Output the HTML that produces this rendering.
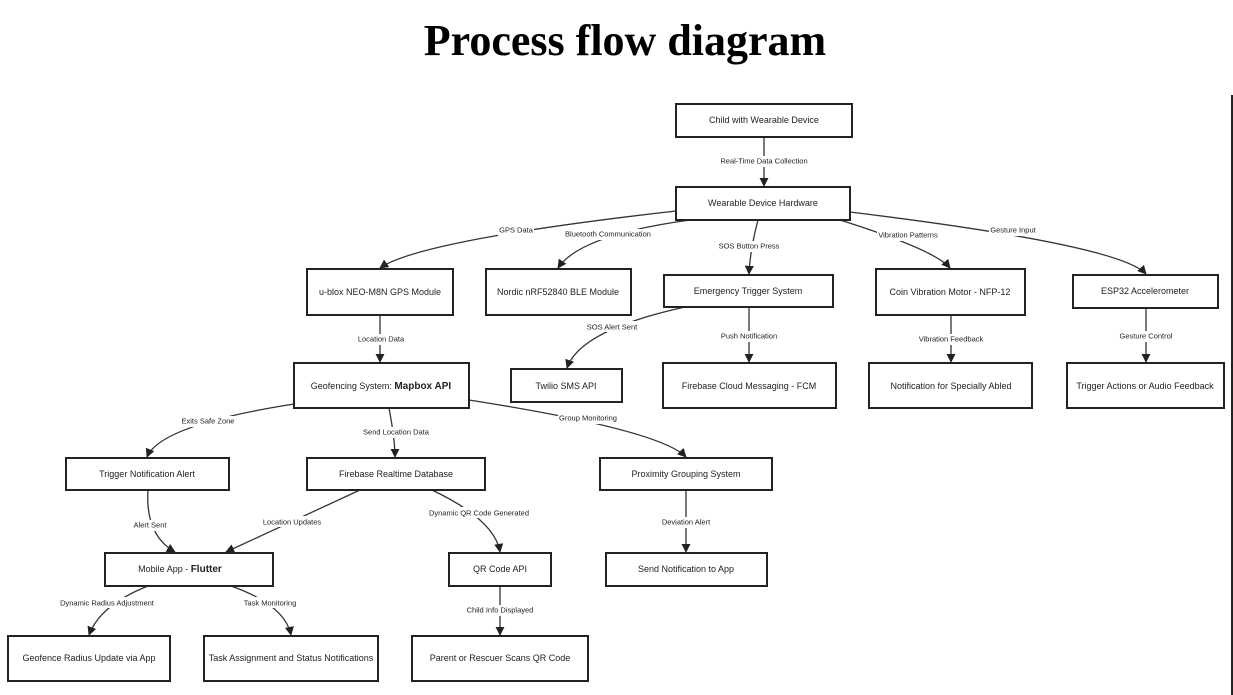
<!DOCTYPE html>
<html><head><meta charset="utf-8"><style>
html,body{margin:0;padding:0;background:#fff;}
svg{display:block;}
text{font-family:"Liberation Sans",sans-serif;fill:#222;}
.b{fill:#fff;stroke:#222;stroke-width:2;}
.e{fill:none;stroke:#333;stroke-width:1.3;marker-end:url(#a);}
.n{font-size:9px;text-anchor:middle;dominant-baseline:central;}
.l{font-size:7.5px;text-anchor:middle;dominant-baseline:central;}
.lb{fill:#fff;}
</style></head><body>
<svg width="1233" height="695" viewBox="0 0 1233 695">
<defs><marker id="a" viewBox="0 0 10 10" refX="9" refY="5" markerWidth="7" markerHeight="7" orient="auto"><path d="M0,0L10,5L0,10z" fill="#222"/></marker></defs>
<text x="625" y="55" text-anchor="middle" style="font-family:'Liberation Serif',serif;font-weight:bold;font-size:44px;fill:#000">Process flow diagram</text>
<line x1="1232" y1="95" x2="1232" y2="695" stroke="#222" stroke-width="2"/>

<!-- edges -->
<path class="e" d="M764,137 L764,186"/>
<path class="e" d="M676,211 Q420,240 380,268"/>
<path class="e" d="M690,220 Q580,235 558,268"/>
<path class="e" d="M758,220 Q750,250 749,274"/>
<path class="e" d="M840,220 Q935,250 950,268"/>
<path class="e" d="M850,212 Q1120,245 1146,274"/>
<path class="e" d="M380,315 L380,362"/>
<path class="e" d="M685,307 Q580,330 567,368"/>
<path class="e" d="M749,307 L749,362"/>
<path class="e" d="M951,315 L951,362"/>
<path class="e" d="M1146,308 L1146,362"/>
<path class="e" d="M294,404 Q160,425 147,457"/>
<path class="e" d="M389,408 Q395,440 395,457"/>
<path class="e" d="M469,400 Q660,430 686,457"/>
<path class="e" d="M148,490 Q145,535 175,552"/>
<path class="e" d="M360,490 L226,552"/>
<path class="e" d="M432,490 Q495,520 500,552"/>
<path class="e" d="M686,490 L686,552"/>
<path class="e" d="M148,586 Q100,605 89,635"/>
<path class="e" d="M231,586 Q285,605 291,635"/>
<path class="e" d="M500,586 L500,635"/>

<!-- labels -->
<g>
<rect class="lb" x="720" y="156" width="88" height="11"/><text class="l" x="764" y="161">Real-Time Data Collection</text>
<rect class="lb" x="498" y="225" width="36" height="11"/><text class="l" x="516" y="230">GPS Data</text>
<rect class="lb" x="564" y="229" width="88" height="11"/><text class="l" x="608" y="234">Bluetooth Communication</text>
<rect class="lb" x="717" y="241" width="64" height="11"/><text class="l" x="749" y="246">SOS Button Press</text>
<rect class="lb" x="877" y="230" width="62" height="11"/><text class="l" x="908" y="235">Vibration Patterns</text>
<rect class="lb" x="989" y="225" width="50" height="11"/><text class="l" x="1013" y="230">Gesture Input</text>
<rect class="lb" x="357" y="334" width="48" height="11"/><text class="l" x="381" y="339">Location Data</text>
<rect class="lb" x="585" y="321" width="54" height="11"/><text class="l" x="612" y="327">SOS Alert Sent</text>
<rect class="lb" x="719" y="331" width="60" height="11"/><text class="l" x="749" y="336">Push Notification</text>
<rect class="lb" x="917" y="334" width="68" height="11"/><text class="l" x="951" y="339">Vibration Feedback</text>
<rect class="lb" x="1117" y="331" width="58" height="11"/><text class="l" x="1146" y="336">Gesture Control</text>
<rect class="lb" x="180" y="416" width="56" height="11"/><text class="l" x="208" y="421">Exits Safe Zone</text>
<rect class="lb" x="362" y="427" width="68" height="11"/><text class="l" x="396" y="432">Send Location Data</text>
<rect class="lb" x="558" y="413" width="60" height="11"/><text class="l" x="588" y="418">Group Monitoring</text>
<rect class="lb" x="132" y="520" width="36" height="11"/><text class="l" x="150" y="525">Alert Sent</text>
<rect class="lb" x="262" y="516" width="60" height="11"/><text class="l" x="292" y="522">Location Updates</text>
<rect class="lb" x="428" y="507" width="102" height="11"/><text class="l" x="479" y="513">Dynamic QR Code Generated</text>
<rect class="lb" x="660" y="517" width="52" height="11"/><text class="l" x="686" y="522">Deviation Alert</text>
<rect class="lb" x="58" y="597" width="98" height="11"/><text class="l" x="107" y="603">Dynamic Radius Adjustment</text>
<rect class="lb" x="243" y="597" width="54" height="11"/><text class="l" x="270" y="603">Task Monitoring</text>
<rect class="lb" x="465" y="605" width="70" height="11"/><text class="l" x="500" y="610">Child Info Displayed</text>
</g>

<!-- nodes -->
<rect class="b" x="676" y="104" width="176" height="33"/><text class="n" x="764" y="120">Child with Wearable Device</text>
<rect class="b" x="676" y="187" width="174" height="33"/><text class="n" x="763" y="203">Wearable Device Hardware</text>
<rect class="b" x="307" y="269" width="146" height="46"/><text class="n" x="380" y="292">u-blox NEO-M8N GPS Module</text>
<rect class="b" x="486" y="269" width="145" height="46"/><text class="n" x="558" y="292">Nordic nRF52840 BLE Module</text>
<rect class="b" x="664" y="275" width="169" height="32"/><text class="n" x="748" y="291">Emergency Trigger System</text>
<rect class="b" x="876" y="269" width="149" height="46"/><text class="n" x="950" y="292">Coin Vibration Motor - NFP-12</text>
<rect class="b" x="1073" y="275" width="145" height="33"/><text class="n" x="1145" y="291">ESP32 Accelerometer</text>
<rect class="b" x="294" y="363" width="175" height="45"/><text class="n" x="381" y="386">Geofencing System:  <tspan style="font-size:10px;font-weight:bold">Mapbox API</tspan></text>
<rect class="b" x="511" y="369" width="111" height="33"/><text class="n" x="566" y="386">Twilio SMS API</text>
<rect class="b" x="663" y="363" width="173" height="45"/><text class="n" x="749" y="386">Firebase Cloud Messaging - FCM</text>
<rect class="b" x="869" y="363" width="163" height="45"/><text class="n" x="951" y="386">Notification for Specially Abled</text>
<rect class="b" x="1067" y="363" width="157" height="45"/><text class="n" x="1145" y="386">Trigger Actions or Audio Feedback</text>
<rect class="b" x="66" y="458" width="163" height="32"/><text class="n" x="147" y="474">Trigger Notification Alert</text>
<rect class="b" x="307" y="458" width="178" height="32"/><text class="n" x="396" y="474">Firebase Realtime Database</text>
<rect class="b" x="600" y="458" width="172" height="32"/><text class="n" x="686" y="474">Proximity Grouping System</text>
<rect class="b" x="105" y="553" width="168" height="33"/><text class="n" x="180" y="569">Mobile App -   <tspan style="font-size:10px;font-weight:bold">Flutter</tspan></text>
<rect class="b" x="449" y="553" width="102" height="33"/><text class="n" x="500" y="569">QR Code API</text>
<rect class="b" x="606" y="553" width="161" height="33"/><text class="n" x="686" y="569">Send Notification to App</text>
<rect class="b" x="8" y="636" width="162" height="45"/><text class="n" x="89" y="658">Geofence Radius Update via App</text>
<rect class="b" x="204" y="636" width="174" height="45"/><text class="n" x="291" y="658">Task Assignment and Status Notifications</text>
<rect class="b" x="412" y="636" width="176" height="45"/><text class="n" x="500" y="658">Parent or Rescuer Scans QR Code</text>
</svg>
</body></html>
